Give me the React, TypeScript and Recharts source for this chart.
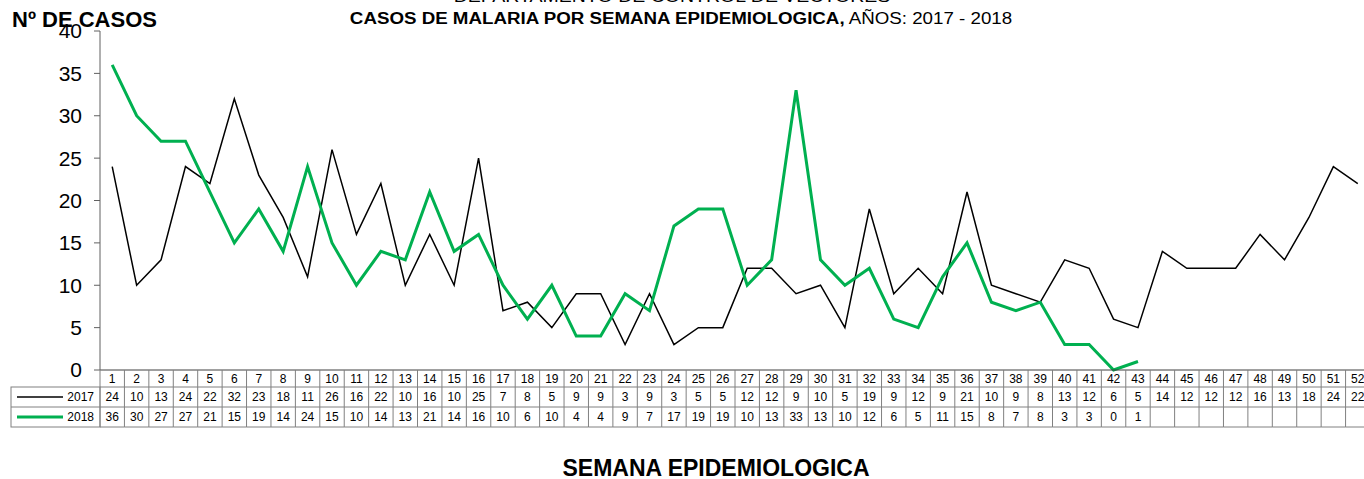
import React from 'react';
import { LineChart, Line, XAxis, YAxis } from 'recharts';

// epidemiological weeks and weekly malaria cases
const WEEKS = [
  '1', '2', '3', '4', '5', '6', '7', '8', '9', '10', '11', '12', '13', '14', '15', '16', '17', '18',
  '19', '20', '21', '22', '23', '24', '25', '26', '27', '28', '29', '30', '31', '32', '33', '34', '35',
  '36', '37', '38', '39', '40', '41', '42', '43', '44', '45', '46', '47', '48', '49', '50', '51', '52',
];
const CASES_2017 = [
  24, 10, 13, 24, 22, 32, 23, 18, 11, 26, 16, 22, 10, 16, 10, 25, 7, 8, 5, 9, 9, 3, 9, 3, 5, 5,
  12, 12, 9, 10, 5, 19, 9, 12, 9, 21, 10, 9, 8, 13, 12, 6, 5, 14, 12, 12, 12, 16, 13, 18, 24, 22,
];
const CASES_2018 = [
  36, 30, 27, 27, 21, 15, 19, 14, 24, 15, 10, 14, 13, 21, 14, 16, 10, 6, 10, 4, 4, 9, 7, 17, 19, 19,
  10, 13, 33, 13, 10, 12, 6, 5, 11, 15, 8, 7, 8, 3, 3, 0, 1,
];
const Y_TICKS = [0, 5, 10, 15, 20, 25, 30, 35, 40];

const FONT = '"Liberation Sans", Arial, sans-serif';
const GREEN = '#00B050';
const CHART_W = 1372;
const PLOT_LEFT = 100;
const COL_W = (CHART_W - 2 - PLOT_LEFT) / WEEKS.length;
const HEAD_H = 17; // week number row
const ROW_H = 20; // data rows
const BORDER = '#808080';

const data = WEEKS.map((w, i) => ({
  week: w,
  y2017: CASES_2017[i] ?? null,
  y2018: CASES_2018[i] ?? null,
}));

// data table drawn under the axis, one column per tick
const TableTick = (props: any) => {
  const { x, y, index, payload } = props;
  const left = x - COL_W / 2;
  const r1 = y + HEAD_H;
  const r2 = r1 + ROW_H;
  const bottom = r2 + ROW_H;
  const v17 = CASES_2017[index];
  const v18 = CASES_2018[index];
  const txt = { fontSize: 12, fill: '#000', textAnchor: 'middle' as const, fontFamily: FONT };
  return (
    <g>
      {index === 0 && (
        <g>
          <rect x={11} y={r1} width={left - 11} height={ROW_H * 2} fill="none" stroke={BORDER} />
          <line x1={11} x2={left} y1={r2} y2={r2} stroke={BORDER} />
          <line x1={17} x2={63} y1={r1 + ROW_H / 2} y2={r1 + ROW_H / 2} stroke="#000" strokeWidth={1.5} />
          <text x={94} y={r1 + ROW_H / 2 + 4} fontSize={12} textAnchor="end" fontFamily={FONT}>2017</text>
          <line x1={17} x2={63} y1={r2 + ROW_H / 2} y2={r2 + ROW_H / 2} stroke={GREEN} strokeWidth={3} />
          <text x={94} y={r2 + ROW_H / 2 + 4} fontSize={12} textAnchor="end" fontFamily={FONT}>2018</text>
          <line x1={left} x2={left} y1={y} y2={bottom} stroke={BORDER} />
        </g>
      )}
      <line x1={left + COL_W} x2={left + COL_W} y1={y} y2={bottom} stroke={BORDER} />
      <line x1={left} x2={left + COL_W} y1={r1} y2={r1} stroke={BORDER} />
      <line x1={left} x2={left + COL_W} y1={r2} y2={r2} stroke={BORDER} />
      <line x1={left} x2={left + COL_W} y1={bottom} y2={bottom} stroke={BORDER} />
      <text x={x} y={y + HEAD_H / 2 + 4} {...txt}>{payload.value}</text>
      <text x={x} y={r1 + ROW_H / 2 + 4} {...txt}>{v17 ?? ''}</text>
      <text x={x} y={r2 + ROW_H / 2 + 4} {...txt}>{v18 ?? ''}</text>
    </g>
  );
};

const App: React.FC = () => {
  return (
    <div style={{ position: 'fixed', left: 0, top: 0, width: 1364, height: 479, overflow: 'hidden', background: '#fff', fontFamily: FONT }}>
      <div style={{ position: 'absolute', left: 672, top: -12, transform: 'translateX(-50%) scaleX(1.22)', fontSize: 16, whiteSpace: 'nowrap' }}>
        DEPARTAMENTO DE CONTROL DE VECTORES
      </div>
      <div style={{ position: 'absolute', left: 681, top: 10, transform: 'translateX(-50%) scaleX(1.17)', fontSize: 16, whiteSpace: 'nowrap' }}>
        <b>CASOS DE MALARIA POR SEMANA EPIDEMIOLOGICA,</b> AÑOS: 2017 - 2018
      </div>
      <div style={{ position: 'absolute', left: 12, top: 7, fontSize: 22, fontWeight: 'bold', whiteSpace: 'nowrap' }}>
        Nº DE CASOS
      </div>
      <div style={{ position: 'absolute', left: 716, top: 455, transform: 'translateX(-50%)', fontSize: 23, fontWeight: 'bold', whiteSpace: 'nowrap' }}>
        SEMANA EPIDEMIOLOGICA
      </div>
      <div style={{ position: 'absolute', left: 0, top: 0 }}>
        <LineChart width={CHART_W} height={479} data={data} margin={{ top: 31, right: 2, bottom: 0, left: 40 }}>
          <XAxis
            dataKey="week"
            interval={0}
            height={109}
            padding={{ left: COL_W / 2, right: COL_W / 2 }}
            tickLine={false}
            tickSize={0}
            tickMargin={0}
            axisLine={{ stroke: '#404040' }}
            tick={<TableTick />}
          />
          <YAxis
            width={60}
            domain={[0, 40]}
            ticks={Y_TICKS}
            interval={0}
            tickSize={6}
            tickMargin={12}
            axisLine={{ stroke: '#606060' }}
            tickLine={{ stroke: '#606060' }}
            tick={{ fontSize: 21, fill: '#000', fontFamily: FONT }}
          />
          <Line type="linear" dataKey="y2017" stroke="#000" strokeWidth={1.5} dot={false} isAnimationActive={false} />
          <Line type="linear" dataKey="y2018" stroke={GREEN} strokeWidth={3} dot={false} isAnimationActive={false} />
        </LineChart>
      </div>
    </div>
  );
};

export default App;
